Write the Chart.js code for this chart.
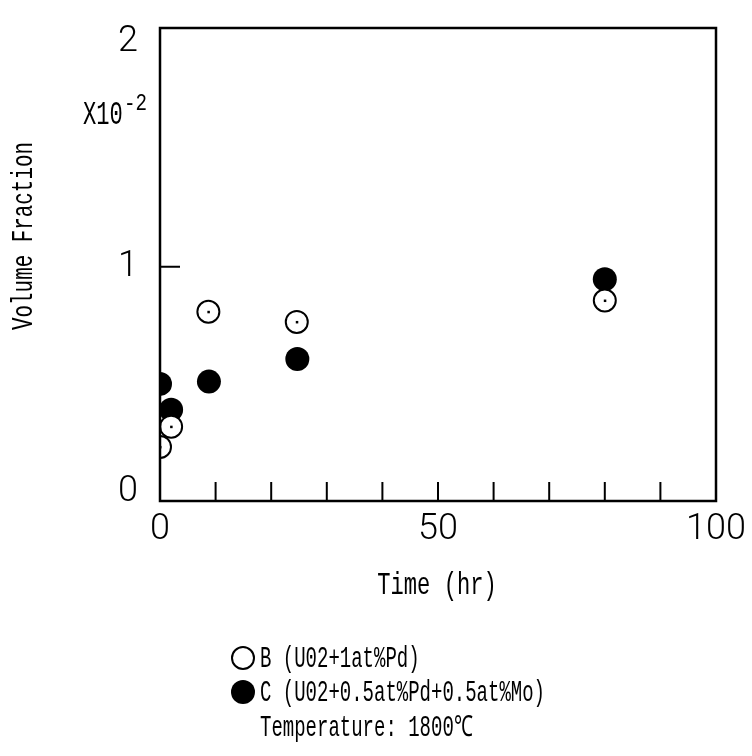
<!DOCTYPE html>
<html><head><meta charset="utf-8">
<script src="https://cdn.jsdelivr.net/npm/chart.js@4/dist/chart.umd.min.js"></script>
<style>html,body{margin:0;padding:0;background:#fff}#wrap{width:752px;height:756px}</style>
</head><body><div id="wrap"><canvas id="c" width="752" height="756"></canvas></div>
<script>
// ---- data ----
const timeB = [0, 2, 8.7, 24.6, 80];
const fracB = [0.20, 0.29, 0.80, 0.755, 0.85];
const timeC = [0, 2, 8.8, 24.7, 80];
const fracC = [0.48, 0.365, 0.49, 0.59, 0.945];
const xTickLabels = ['0', '50', '100'];
const xMinorTicks = [10, 20, 30, 40, 50, 60, 70, 80, 90];
const yTickLabels = ['0', '1', '2'];
const yMinorTicks = [1];
const yRange = [-0.04, 2.06];
const labelB = 'B (U02+1at%Pd)';
const labelC = 'C (U02+0.5at%Pd+0.5at%Mo)';
const noteText = 'Temperature: 1800℃';
const xTitle = 'Time (hr)';
const yTitle = 'Volume Fraction';
const yMultBase = 'X10';
const yMultExp = '-2';

const MONO = '"Liberation Mono", "DejaVu Sans Mono", monospace';
function drawText(ctx, text, x, y, size, sx, align, rotate) {
  ctx.save();
  ctx.translate(x, y);
  if (rotate) ctx.rotate(-Math.PI / 2);
  ctx.scale(sx, 1);
  ctx.font = size + 'px ' + MONO;
  ctx.textAlign = align;
  ctx.textBaseline = 'middle';
  ctx.fillStyle = '#000';
  ctx.fillText(text, 0, 0);
  ctx.restore();
}

const decor = {
  id: 'decor',
  afterDatasetsDraw(chart) {
    const ctx = chart.ctx, a = chart.chartArea;
    const xs = chart.scales.x, ys = chart.scales.y;
    ctx.save();
    ctx.strokeStyle = '#000';
    ctx.lineWidth = 2.5;
    ctx.strokeRect(a.left, a.top, a.right - a.left, a.bottom - a.top);
    ctx.lineWidth = 2;
    ctx.beginPath();
    xMinorTicks.forEach(v => {
      const px = xs.getPixelForValue(v);
      ctx.moveTo(px, a.bottom); ctx.lineTo(px, a.bottom - 19);
    });
    yMinorTicks.forEach(v => {
      const py = ys.getPixelForValue(v);
      ctx.moveTo(a.left, py); ctx.lineTo(a.left + 20, py);
    });
    ctx.stroke();
    // small pen dot at centre of open circles
    const meta = chart.getDatasetMeta(0);
    ctx.fillStyle = '#000';
    meta.data.forEach(p => { ctx.fillRect(p.x - 1, p.y - 1, 2.5, 2.5); });
    ctx.restore();
  },
  afterDraw(chart) {
    const ctx = chart.ctx;
    // axis titles
    drawText(ctx, xTitle, 437, 586, 32, 0.69, 'center', false);
    drawText(ctx, yTitle, 24, 236, 29, 0.72, 'center', true);
    // multiplier
    drawText(ctx, yMultBase, 83, 115, 33, 0.67, 'left', false);
    drawText(ctx, yMultExp, 124, 104, 24, 0.8, 'left', false);
    // legend
    ctx.save();
    ctx.lineWidth = 2;
    ctx.strokeStyle = '#000';
    ctx.fillStyle = '#fff';
    ctx.beginPath(); ctx.arc(243, 658, 11, 0, Math.PI * 2); ctx.fill(); ctx.stroke();
    ctx.fillStyle = '#000';
    ctx.beginPath(); ctx.arc(243, 692, 12, 0, Math.PI * 2); ctx.fill();
    ctx.restore();
    drawText(ctx, chart.data.datasets[0].label, 260, 659, 29, 0.655, 'left', false);
    drawText(ctx, chart.data.datasets[1].label, 260, 693, 29, 0.655, 'left', false);
    drawText(ctx, noteText, 260, 728, 29, 0.655, 'left', false);
  }
};

const tickFont = { family: 'Roboto, "Liberation Sans", Arial, sans-serif', size: 36, weight: 300 };
function zeroPad(s) { s.paddingTop = 0; s.paddingBottom = 0; s.paddingLeft = 0; s.paddingRight = 0; }

new Chart(document.getElementById('c'), {
  type: 'scatter',
  data: {
    datasets: [
      {
        label: labelB,
        data: timeB.map((t, i) => ({ x: t, y: fracB[i] })),
        pointRadius: 11,
        pointBorderWidth: 2,
        pointBackgroundColor: '#fff',
        pointBorderColor: '#000',
        showLine: false
      },
      {
        label: labelC,
        data: timeC.map((t, i) => ({ x: t, y: fracC[i] })),
        pointRadius: 12,
        pointBorderWidth: 0,
        pointBackgroundColor: '#000',
        pointBorderColor: '#000',
        showLine: false
      }
    ]
  },
  options: {
    responsive: false,
    devicePixelRatio: 1,
    animation: false,
    events: [],
    layout: { padding: { top: 28, right: 36, left: 0, bottom: 0 } },
    plugins: { legend: { display: false }, tooltip: { enabled: false } },
    scales: {
      x: {
        type: 'linear', min: 0, max: 100,
        grid: { display: false, drawTicks: false },
        border: { display: false },
        ticks: {
          autoSkip: false, maxRotation: 0, minRotation: 0,
          padding: 7, color: '#000', font: tickFont
        },
        afterBuildTicks: s => { s.ticks = xTickLabels.map(v => ({ value: Number(v) })); },
        afterFit: s => { s.height = 255; zeroPad(s); }
      },
      y: {
        type: 'linear', min: yRange[0], max: yRange[1],
        grid: { display: false, drawTicks: false },
        border: { display: false },
        ticks: {
          autoSkip: false, padding: 22, color: '#000', font: tickFont
        },
        afterBuildTicks: s => { s.ticks = yTickLabels.map(v => ({ value: Number(v) })); },
        afterFit: s => { s.width = 160; zeroPad(s); }
      }
    }
  },
  plugins: [decor]
});
</script>
</body></html>
